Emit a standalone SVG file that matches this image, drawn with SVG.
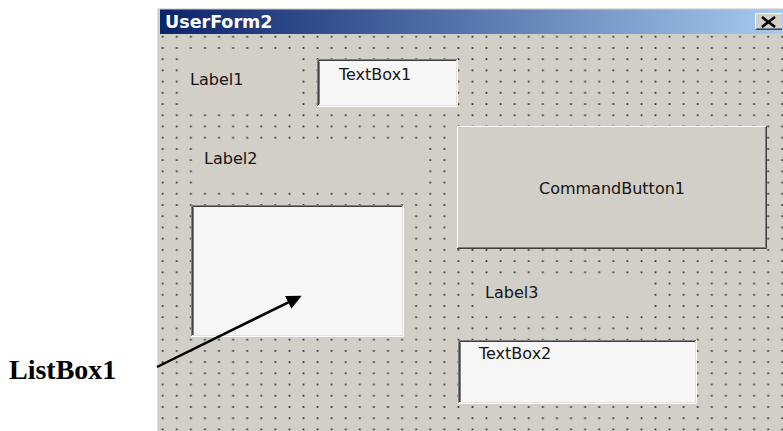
<svg xmlns="http://www.w3.org/2000/svg" width="783" height="431" viewBox="0 0 783 431">
<style>
.t{font-family:"DejaVu Sans",Verdana,sans-serif;font-size:16px;fill:#141414}
.bg{fill:#d2cec8}
.box{fill:#f6f6f6}
.dk{stroke:#404040;fill:none}
.md{stroke:#808080;fill:none}
.wh{stroke:#ffffff;fill:none}
.lt{stroke:#e4e1dc;fill:none}
</style>
<defs>
<linearGradient id="tb" x1="0" y1="0" x2="1" y2="0">
<stop offset="0" stop-color="#0a246a"/>
<stop offset="1" stop-color="#a6caf0"/>
</linearGradient>
<pattern id="dots" patternUnits="userSpaceOnUse" x="155.66" y="31.09" width="14.08" height="11.22">
<rect x="6.2" y="4.8" width="1.7" height="1.7" fill="#2e2e2e"/>
</pattern>
<marker id="ah" markerUnits="userSpaceOnUse" markerWidth="15" markerHeight="14" refX="7" refY="7" orient="auto">
<path d="M0,0 L15,7 L0,14 z" fill="#000"/>
</marker>
</defs>

<g id="form">
<rect x="157" y="8" width="626" height="423" class="bg"/>
<rect x="158" y="34" width="625" height="397" fill="url(#dots)"/>
<line x1="157" y1="8.5" x2="783" y2="8.5" class="lt"/>
<line x1="157.5" y1="8" x2="157.5" y2="431" class="lt"/>
<rect x="160" y="9.5" width="623" height="24.5" fill="url(#tb)"/>
<text x="165" y="28" style="font-family:'DejaVu Sans',Verdana,sans-serif;font-weight:bold;font-size:17.5px;fill:#ffffff">UserForm2</text>
<g id="closebtn">
<rect x="755" y="13" width="27" height="17" class="bg"/>
<path d="M755.5,29.5 V13.5 H782" class="wh"/>
<path d="M755.5,29.5 H782" class="dk"/>
<path d="M756.5,28.5 H782" class="md"/>
<path d="M762,17 L775,27 M775,17 L762,27" stroke="#000" stroke-width="2.6" fill="none"/>
</g>
</g>

<g id="Label1">
<rect x="184" y="53.5" width="112" height="56" class="bg"/>
<text x="190" y="85" class="t">Label1</text>
</g>

<g id="TextBox1">
<rect x="317" y="59" width="140" height="47" class="box"/>
<path d="M317.5,106 V59.5 H457" class="md"/>
<path d="M318.5,105 V60.5 H456" class="dk"/>
<path d="M319.5,104 V61.5" class="md"/>
<path d="M317,106.5 H457.5 V59" class="wh"/>
<path d="M318,105.5 H456.5 V60" class="lt"/>
<text x="339" y="80" class="t">TextBox1</text>
</g>

<g id="Label2">
<rect x="198" y="143.3" width="225" height="45" class="bg"/>
<text x="204" y="164" class="t">Label2</text>
</g>

<g id="ListBox1">
<rect x="191" y="205" width="212" height="132" class="box"/>
<path d="M191.5,337 V205.5 H403" class="md"/>
<path d="M192.5,336 V206.5 H402" class="dk"/>
<path d="M193.5,335 V207.5" class="md"/>
<path d="M191,336.5 H403.5 V205" class="wh"/>
<path d="M192,335.5 H402.5 V206" class="lt"/>
</g>

<g id="CommandButton1">
<rect x="457" y="126" width="310" height="123" class="bg"/>
<path d="M457.5,249 V126.5 H767" class="wh"/>
<path d="M457,248.5 H766.5 V126" class="dk"/>
<path d="M458,247.5 H765.5 V127" class="md"/>
<text x="612" y="194" text-anchor="middle" class="t">CommandButton1</text>
</g>

<g id="Label3">
<rect x="479.5" y="278" width="169" height="33.5" class="bg"/>
<text x="485" y="298" class="t">Label3</text>
</g>

<g id="TextBox2">
<rect x="458" y="340" width="238" height="64" class="box"/>
<path d="M458.5,404 V340.5 H696" class="md"/>
<path d="M459.5,403 V341.5 H695" class="dk"/>
<path d="M460.5,402 V342.5" class="md"/>
<path d="M458,403.5 H696.5 V340" class="wh"/>
<path d="M459,402.5 H695.5 V341" class="lt"/>
<text x="479" y="359" class="t">TextBox2</text>
</g>

<g id="connectors">
<line x1="157" y1="367" x2="294.5" y2="299.3" stroke="#000" stroke-width="2.5" marker-end="url(#ah)"/>
</g>

<g id="callout">
<text x="9" y="379" style="font-family:'Liberation Serif','Times New Roman',serif;font-weight:bold;font-size:28px;fill:#000">ListBox1</text>
</g>
</svg>
